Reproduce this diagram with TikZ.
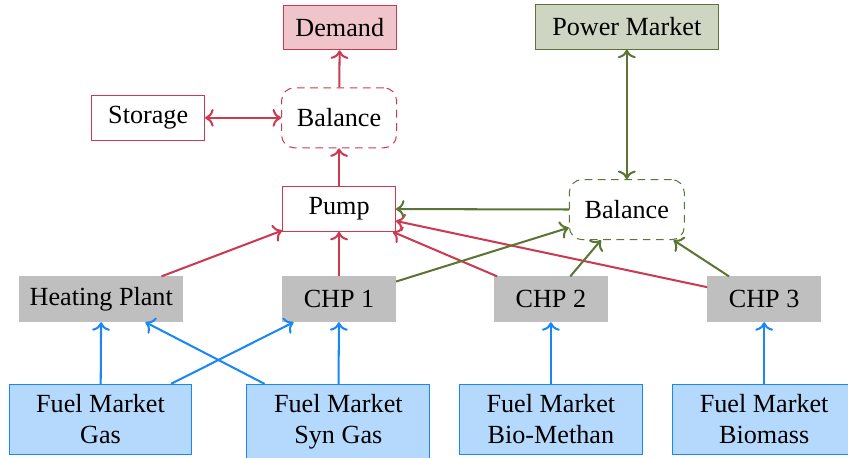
\documentclass[tikz,border=0pt]{standalone}
\usepackage{fontspec}
\setmainfont{Liberation Serif}
\usepackage{xcolor}
\usetikzlibrary{arrows.meta,positioning,calc}
\definecolor{heatred}{RGB}{204,58,82}
\definecolor{powergreen}{RGB}{92,116,52}
\definecolor{fuelblue}{RGB}{25,135,245}

\begin{document}
\begin{tikzpicture}[
  font=\fontsize{10.3}{12.3}\selectfont,
  box/.style={draw, minimum width=1.56cm, minimum height=0.62cm, inner sep=4pt},
  heatbox/.style={box, draw=heatred},
  balbox/.style={draw, dash pattern=on 3pt off 2.2pt, rounded corners=5pt, minimum width=1.59cm, minimum height=0.83cm},
  unitbox/.style={box, draw=black!25, fill=black!25},
  fuelbox/.style={box, draw=fuelblue, fill=fuelblue!32, minimum width=2.53cm, align=center, anchor=north},
  heatline/.style={->, thick, heatred},
  powerline/.style={->, thick, powergreen},
  fuelline/.style={->, thick, fuelblue}
]
  \useasboundingbox (0,0) rectangle (11.73,6.33);

  % Heat side
  \node[heatbox, fill=heatred!30] (demand) at (4.70,5.95) {Demand};
  \node[heatbox] (storage) at (2.05,4.70) {Storage};
  \node[balbox, draw=heatred] (hbal) at (4.69,4.70) {Balance};
  \node[heatbox] (pump) at (4.69,3.44) {Pump};

  % Power side
  \node[box, draw=powergreen, fill=powergreen!30, minimum width=2.53cm] (power) at (8.67,5.96) {Power Market};
  \node[balbox, draw=powergreen] (pbal) at (8.67,3.43) {Balance};

  % Plants
  \node[unitbox] (hp) at (1.40,2.19) {Heating Plant};
  \node[unitbox] (chp1) at (4.69,2.19) {CHP 1};
  \node[unitbox] (chp2) at (7.62,2.19) {CHP 2};
  \node[unitbox] (chp3) at (10.57,2.19) {CHP 3};

  % Fuel markets
  \node[fuelbox] (gas) at (1.39,1.02) {Fuel Market\\Gas};
  \node[fuelbox] (syngas) at (4.68,1.02) {Fuel Market\\Syn Gas};
  \node[fuelbox] (biomethan) at (7.62,1.02) {Fuel Market\\Bio-Methan};
  \node[fuelbox] (biomass) at (10.57,1.02) {Fuel Market\\Biomass};

  % Heat flows
  \draw[heatline] (hbal) -- (demand);
  \draw[heatline, <->] (storage) -- (hbal);
  \draw[heatline] (pump) -- (hbal);
  \draw[heatline] (hp) -- (pump);
  \draw[heatline] (chp1) -- (pump);
  \draw[heatline] (chp2) -- (pump);
  \draw[heatline] (chp3) -- (pump);

  % Power flows
  \draw[powerline, <->] (pbal) -- (power);
  \draw[powerline] (pbal) -- (pump);
  \draw[powerline] (chp1) -- (pbal);
  \draw[powerline] (chp2) -- (pbal);
  \draw[powerline] (chp3) -- (pbal);

  % Fuel flows
  \draw[fuelline] (gas) -- (hp);
  \draw[fuelline] (gas) -- (chp1);
  \draw[fuelline] (syngas) -- (hp);
  \draw[fuelline] (syngas) -- (chp1);
  \draw[fuelline] (biomethan) -- (chp2);
  \draw[fuelline] (biomass) -- (chp3);
\end{tikzpicture}
\end{document}
